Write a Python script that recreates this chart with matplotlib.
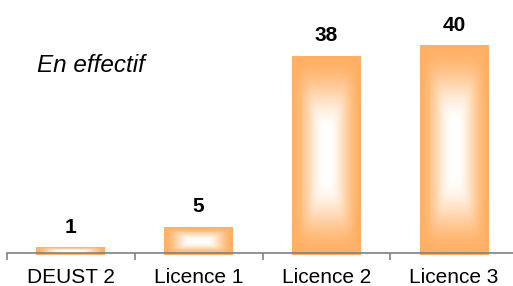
import matplotlib.pyplot as plt
import numpy as np
from matplotlib.colors import LinearSegmentedColormap

categories = ["DEUST 2", "Licence 1", "Licence 2", "Licence 3"]
effectifs = [1, 5, 38, 40]

plt.rcParams["font.family"] = ["Liberation Sans", "DejaVu Sans"]

W, H = 513, 286
fig = plt.figure(figsize=(W / 100, H / 100), dpi=100)
# axes spans past the right edge, like the original
ax = fig.add_axes([7 / W, 31 / H, 511 / W, 235 / H])
ax.set_xlim(-0.5, len(categories) - 0.5)
ax.set_ylim(-0.4, 45)

x = np.arange(len(categories))
bars = ax.bar(x, effectifs, width=0.54, color="none", edgecolor="none")

# rectangular path gradient: orange at the edges, white in the middle
orange = np.array([255, 176, 100]) / 255
cmap = LinearSegmentedColormap.from_list("fill", [(1, 1, 1), orange])
n = 300
u = np.linspace(-1, 1, n)
uu, vv = np.meshgrid(u, u)
ybot = ax.get_ylim()[0]
for b in bars:
    x0, w, h = b.get_x(), b.get_width(), b.get_height()
    # bar size in pixels to shape the gradient
    (px0, py0), (px1, py1) = ax.transData.transform([(x0, ybot), (x0 + w, h)])
    pw, ph = abs(px1 - px0), abs(py1 - py0)
    au, av = np.abs(uu), np.abs(vv)
    if ph > pw:
        c = 0.3 * (1 - pw / ph)
        av = np.clip((av - c) / (1 - c), 0, 1)
    else:
        c = 0.3 * (1 - ph / pw)
        au = np.clip((au - c) / (1 - c), 0, 1)
    t = np.clip((au ** 6 + av ** 6) ** (1 / 6), 0, 1)
    s = np.clip((t - 0.05) / 0.95, 0, 1)
    f = s * s * (3 - 2 * s)
    ax.imshow(f, cmap=cmap, vmin=0, vmax=1, extent=[x0, x0 + w, ybot, h],
              aspect="auto", interpolation="bilinear", zorder=2)
    ax.annotate(f"{h:g}", (x0 + w / 2, h), xytext=(0, 8),
                textcoords="offset points", ha="center", va="bottom",
                fontsize=15, fontweight="bold")

for sp in ["top", "right", "left"]:
    ax.spines[sp].set_visible(False)
ax.spines["bottom"].set_position(("data", 0))
ax.spines["bottom"].set_color("#808080")
ax.spines["bottom"].set_linewidth(1.2)
ax.spines["bottom"].set_zorder(3)
ax.set_yticks([])

ax.set_xticks(np.arange(len(categories) + 1) - 0.5)
ax.set_xticklabels([])
ax.tick_params(axis="x", which="major", length=5, color="#808080", width=1.2)
ax.set_xticks(x, minor=True)
ax.set_xticklabels(categories, minor=True, fontsize=15)
ax.tick_params(axis="x", which="minor", length=0, pad=11)

fig.text(37 / W, 214 / H, "En effectif", fontsize=17.5, style="italic",
         ha="left", va="baseline")

fig.savefig("out.png", dpi=100)
